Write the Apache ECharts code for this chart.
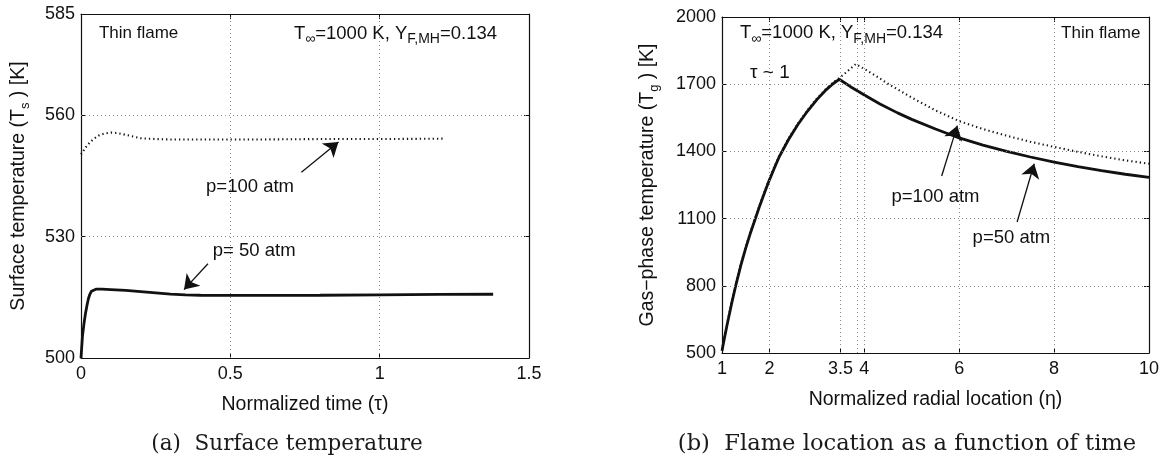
<!DOCTYPE html>
<html><head><meta charset="utf-8">
<script src="https://cdn.jsdelivr.net/npm/echarts@6/dist/echarts.min.js"></script>
<style>html,body{margin:0;padding:0;background:#fff}#c{width:1166px;height:460px}</style>
</head><body><div id="c"></div><script>
// ---------- Panel (a): surface temperature vs normalized time ----------
const tau50 = [0, 0.005, 0.01, 0.015, 0.02, 0.025, 0.03, 0.035, 0.04, 0.05, 0.07, 0.1, 0.15, 0.2, 0.25, 0.3, 0.35, 0.4, 0.5, 0.6, 0.8, 1.0, 1.2, 1.38];
const Ts50  = [500, 505.5, 508.5, 511, 513, 514.7, 515.8, 516.5, 516.9, 517.0, 517.0, 516.9, 516.7, 516.4, 516.1, 515.8, 515.6, 515.5, 515.45, 515.45, 515.5, 515.6, 515.7, 515.75];
const tau100 = [0, 0.02, 0.04, 0.06, 0.08, 0.1, 0.12, 0.14, 0.17, 0.2, 0.25, 0.3, 0.4, 0.6, 0.8, 1.0, 1.22];
const Ts100  = [550.3, 552.5, 554.0, 555.0, 555.5, 555.7, 555.6, 555.3, 554.8, 554.3, 554.1, 554.0, 554.0, 554.0, 554.1, 554.1, 554.2];
const aXTicks = [0, 0.5, 1, 1.5];
const aYTicks = [500, 530, 560, 585];

// ---------- Panel (b): gas-phase temperature vs radial location ----------
const eta50 = [1, 1.05, 1.1, 1.2, 1.3, 1.4, 1.5, 1.6, 1.7, 1.8, 1.9, 2.0, 2.1, 2.2, 2.4, 2.6, 2.8, 3.0, 3.2, 3.34, 3.47,
               3.7, 4.0, 4.33, 4.7, 5.0, 5.5, 6.0, 6.5, 7.0, 7.5, 8.0, 8.5, 9.0, 9.5, 10];
const Tg50  = [510, 565, 618, 718, 810, 893, 968, 1036, 1098, 1160, 1218, 1273, 1324, 1373, 1452, 1520, 1579, 1631, 1676, 1702, 1722,
               1690, 1652, 1612, 1572, 1543, 1500, 1460, 1428, 1400, 1375, 1352, 1332, 1314, 1298, 1284];
const eta100 = [1, 1.05, 1.1, 1.2, 1.3, 1.4, 1.5, 1.6, 1.7, 1.8, 1.9, 2.0, 2.1, 2.2, 2.4, 2.6, 2.8, 3.0, 3.2, 3.34, 3.47, 3.6, 3.7, 3.82,
                4.0, 4.22, 4.5, 5.0, 5.5, 6.0, 6.5, 7.0, 7.5, 8.0, 8.5, 9.0, 9.5, 10];
const Tg100  = [512, 569, 623, 723, 815, 898, 973, 1041, 1103, 1165, 1223, 1278, 1329, 1378, 1457, 1525, 1584, 1636, 1681, 1707, 1727, 1750, 1768, 1790,
                1768, 1740, 1702, 1640, 1583, 1535, 1500, 1470, 1443, 1420, 1398, 1378, 1360, 1345];
const bXTicks = [1, 2, 3.5, 4, 6, 8, 10];
const bXGrid  = [2, 3.5, 3.85, 4, 6, 8];
const bYTicks = [500, 800, 1100, 1400, 1700, 2000];

// annotations (data coordinates of each panel)
const aNotes = [
  { at: [0.06, 580.2], align: 'left', text: '{n|Thin flame}' },
  { at: [0.713, 580.2], align: 'left', text: '{m|T}{s|∞}{m|=1000 K, Y}{s|F,MH}{m|=0.134}' },
  { at: [0.566, 542.3], align: 'center', text: '{m|p=100 atm}' },
  { at: [0.58, 526.4], align: 'center', text: '{m|p= 50 atm}' }
];
const aArrows = [[[0.738, 545.9], [0.862, 553.4]], [[0.425, 523.3], [0.345, 516.9]]];
const bNotes = [
  { at: [1.38, 1928], align: 'left', text: '{m|T}{s|∞}{m|=1000 K, Y}{s|F,MH}{m|=0.134}' },
  { at: [9.82, 1928], align: 'right', text: '{n|Thin flame}' },
  { at: [2.01, 1752], align: 'center', text: '{t|τ ~ 1}' },
  { at: [5.5, 1196], align: 'center', text: '{m|p=100 atm}' },
  { at: [7.1, 1013], align: 'center', text: '{m|p=50 atm}' }
];
const bArrows = [[[5.63, 1290], [5.96, 1515]], [[7.22, 1085], [7.58, 1345]]];

const zip = (xs, ys) => xs.map((x, i) => [x, ys[i]]);

const SANS = 'Liberation Sans';
const INK = '#111';
const labelStyle = { fontFamily: SANS, fontSize: 18, color: INK };
const gridLineStyle = { color: '#8a8a8a', width: 1, type: [1, 3] };
const dotStyle = { color: '#151515', width: 2.1, type: [1.3, 3] };
const subRich = {
  n: { fontFamily: SANS, fontSize: 19.5, lineHeight: 26, color: INK },
  s: { fontFamily: SANS, fontSize: 13, lineHeight: 13, verticalAlign: 'bottom', color: INK }
};
const noteRich = {
  n: { fontFamily: SANS, fontSize: 17, lineHeight: 24, fill: INK },
  m: { fontFamily: SANS, fontSize: 18.5, lineHeight: 26, fill: INK },
  t: { fontFamily: SANS, fontSize: 19, lineHeight: 24, fill: INK },
  s: { fontFamily: SANS, fontSize: 14, lineHeight: 11, verticalAlign: 'bottom', fill: INK }
};

function mainAxis(dim, gridIndex, min, max, ticks, name, nameGap) {
  return {
    type: 'value', gridIndex, min, max, position: dim === 'x' ? 'bottom' : 'left',
    name, nameLocation: 'middle', nameGap, nameMoveOverlap: false,
    nameTextStyle: Object.assign({}, labelStyle, { fontSize: 19.5, rich: subRich }),
    axisLine: { show: true, onZero: false, lineStyle: { color: INK, width: 1.2 } },
    axisTick: { show: true, inside: true, length: 5, customValues: ticks, lineStyle: { color: INK } },
    axisLabel: Object.assign({ show: true, customValues: ticks, margin: dim === 'x' ? 7 : 6, hideOverlap: false,
                               formatter: v => String(v) }, labelStyle),
    splitLine: { show: false }
  };
}
function frameAxis(dim, gridIndex, min, max, ticks) {
  return {
    type: 'value', gridIndex, min, max, position: dim === 'x' ? 'top' : 'right',
    axisLine: { show: true, onZero: false, lineStyle: { color: INK, width: 1.2 } },
    axisTick: { show: true, inside: true, length: 5, customValues: ticks, lineStyle: { color: INK } },
    axisLabel: { show: false }, splitLine: { show: false }
  };
}
function gridLines(xs, ys) {
  return {
    silent: true, symbol: ['none', 'none'], label: { show: false },
    lineStyle: gridLineStyle, animation: false,
    data: xs.map(v => ({ xAxis: v })).concat(ys.map(v => ({ yAxis: v })))
  };
}
function arrowSeries(xi, yi, list) {
  return {
    type: 'line', xAxisIndex: xi, yAxisIndex: yi, data: [], silent: true, z: 5, symbol: 'none',
    markLine: {
      silent: true, symbol: ['none', 'arrow'], symbolSize: 14, label: { show: false },
      itemStyle: { color: INK },
      lineStyle: { color: INK, width: 1.3, type: 'solid' }, animation: false,
      data: list.map(a => [{ coord: a[0] }, { coord: a[1] }])
    }
  };
}

const captionFont = { fontFamily: 'DejaVu Serif', fill: '#1a1a1a', textAlign: 'center', textVerticalAlign: 'middle' };

const option = {
  backgroundColor: '#fff',
  animation: false,
  grid: [
    { left: 81, top: 14, width: 448, height: 344, outerBoundsMode: 'none', containLabel: false },
    { left: 722, top: 17, width: 427, height: 336, outerBoundsMode: 'none', containLabel: false }
  ],
  xAxis: [
    mainAxis('x', 0, 0, 1.5, aXTicks, 'Normalized time (τ)', 37),
    frameAxis('x', 0, 0, 1.5, aXTicks),
    mainAxis('x', 1, 1, 10, bXTicks, 'Normalized radial location (η)', 37),
    frameAxis('x', 1, 1, 10, bXTicks.concat([3.85]))
  ],
  yAxis: [
    mainAxis('y', 0, 500, 585, aYTicks, '{n|Surface temperature (T}{s|s}{n| ) [K]}', 49),
    frameAxis('y', 0, 500, 585, aYTicks),
    mainAxis('y', 1, 500, 2000, bYTicks, '{n|Gas−phase temperature (T}{s|g}{n| ) [K]}', 61),
    frameAxis('y', 1, 500, 2000, bYTicks)
  ],
  series: [
    { type: 'line', xAxisIndex: 0, yAxisIndex: 0, data: zip(tau100, Ts100), showSymbol: false, symbol: 'none',
      lineStyle: dotStyle, z: 3,
      markLine: gridLines([0.5, 1], [530, 560]) },
    { type: 'line', xAxisIndex: 0, yAxisIndex: 0, data: zip(tau50, Ts50), showSymbol: false, symbol: 'none',
      lineStyle: { color: '#111', width: 2.8 }, z: 4 },
    arrowSeries(0, 0, aArrows),
    { type: 'line', xAxisIndex: 2, yAxisIndex: 2, data: zip(eta100, Tg100), showSymbol: false, symbol: 'none',
      lineStyle: dotStyle, z: 3,
      markLine: gridLines(bXGrid, [800, 1100, 1400, 1700]) },
    { type: 'line', xAxisIndex: 2, yAxisIndex: 2, data: zip(eta50, Tg50), showSymbol: false, symbol: 'none',
      lineStyle: { color: '#111', width: 2.8 }, z: 4 },
    arrowSeries(2, 2, bArrows)
  ]
};

const chart = echarts.init(document.getElementById('c'), null, { renderer: 'canvas' });
chart.setOption(option);

function noteGraphics(list, xi, yi) {
  return list.map(n => {
    const p = chart.convertToPixel({ xAxisIndex: xi, yAxisIndex: yi }, n.at);
    return { type: 'text', z: 10, silent: true,
      style: { text: n.text, x: p[0], y: p[1], align: n.align, verticalAlign: 'middle', rich: noteRich, fill: INK } };
  });
}
chart.setOption({
  graphic: [
    { type: 'text', x: 287, y: 444, style: Object.assign({ text: '(a)  Surface temperature', fontSize: 21.5 }, captionFont) },
    { type: 'text', x: 907, y: 444, style: Object.assign({ text: '(b)  Flame location as a function of time', fontSize: 22.6 }, captionFont) }
  ].concat(noteGraphics(aNotes, 0, 0), noteGraphics(bNotes, 2, 2))
});
</script></body></html>
